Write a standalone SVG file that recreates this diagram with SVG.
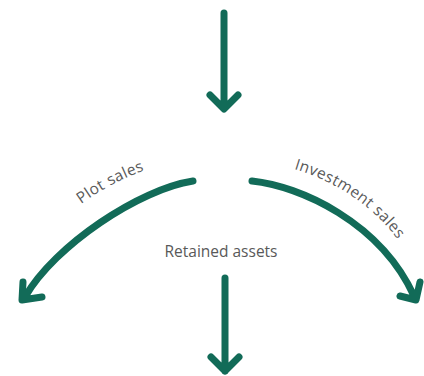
<svg xmlns="http://www.w3.org/2000/svg" width="424" height="376" viewBox="0 0 424 376">
  <style>
    .flow { fill: none; stroke: #126b58; stroke-width: 7; stroke-linecap: round; stroke-linejoin: round; }
    .label { font-family: "Open Sans", "Noto Sans", sans-serif; font-size: 15.5px; fill: #595959; }
    .curved { letter-spacing: 0.4px; }
  </style>
  <defs>
    <path id="plotPath" d="M 81,204 Q 114,180 152,168"/>
    <path id="investPath" d="M 294,169 Q 364,190 404,248"/>
  </defs>
  <rect width="424" height="376" fill="#ffffff"/>
  <g id="connectors">
    <!-- incoming flow -->
    <path class="flow" d="M 224,13 V 108 M 210,95 L 224,109 L 238,95"/>
    <!-- plot sales branch -->
    <path class="flow" d="M 193,181 C 140,189 55,245 25,297 M 23,282 L 22,300 L 42,297"/>
    <!-- investment sales branch -->
    <path class="flow" d="M 252,181 C 300,186 380,222 414,296 M 400,296 L 416,300 L 420,282"/>
    <!-- retained assets flow -->
    <path class="flow" d="M 225,278 V 371 M 211,357 L 225,371 L 239,357"/>
  </g>
  <g id="plot-sales">
    <text class="label curved"><textPath href="#plotPath">Plot sales</textPath></text>
  </g>
  <g id="investment-sales">
    <text class="label curved"><textPath href="#investPath">Investment sales</textPath></text>
  </g>
  <g id="retained-assets">
    <text class="label" x="221" y="257" text-anchor="middle">Retained assets</text>
  </g>
</svg>
